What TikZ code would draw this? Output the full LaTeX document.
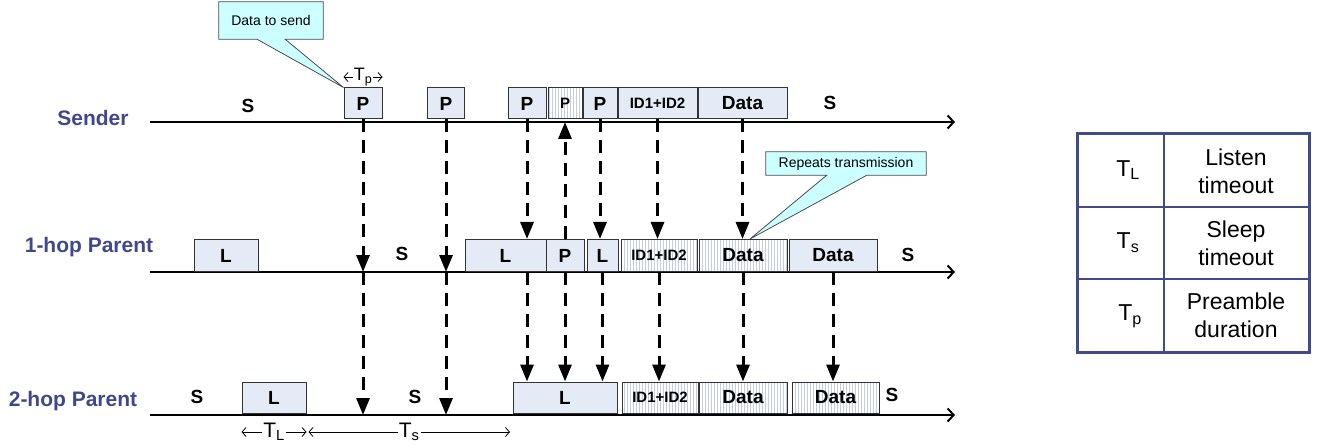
\documentclass[tikz,border=0pt]{standalone}
\usepackage{fontspec}
\setmainfont{Liberation Sans}
\usetikzlibrary{arrows.meta,patterns.meta,calc,backgrounds}

\definecolor{boxfill}{RGB}{228,235,247}
\definecolor{hatchline}{RGB}{196,204,224}
\definecolor{notefill}{RGB}{204,255,255}
\definecolor{rowlabel}{RGB}{64,72,140}
\definecolor{gridblue}{RGB}{66,74,142}

\newcommand{\fsz}[1]{\fontsize{#1}{#1}\selectfont}

\tikzset{
  slot/.style={draw=black!80, line width=1pt, fill=boxfill, inner sep=0pt,
    minimum height=31pt, font=\bfseries\fsz{19}},
  hatched/.style={draw=black!80, line width=1pt, inner sep=0pt,
    minimum height=31pt, font=\bfseries\fsz{19},
    preaction={fill=white},
    pattern={Lines[angle=90,distance=3pt,line width=0.7pt]},
    pattern color=hatchline},
  small/.style={font=\bfseries\fsz{15}},
  rowname/.style={anchor=base, text=rowlabel, font=\bfseries\fsz{21}},
  state/.style={font=\bfseries\fsz{19}},
  timeline/.style={line width=2pt, -{Straight Barb[length=6pt,width=13pt]}},
  darr/.style={line width=3pt, dash pattern=on 13pt off 8pt,
    -{Triangle[length=17pt,width=13pt]}},
  span/.style={line width=0.8pt, {Straight Barb[length=4pt,width=9pt]}-{Straight Barb[length=4pt,width=9pt]}},
  spanlabel/.style={fill=white, inner sep=1pt},
  notebox/.style={inner sep=0pt, font=\fsz{14}},
  note/.style={draw=black!70, line width=0.8pt, fill=notefill},
  cell/.style={font=\fontsize{23}{28}\selectfont, align=center},
}

\begin{document}
\begin{tikzpicture}[x=1pt, y=-1pt]
\useasboundingbox (0,0) rectangle (1321,446);

% ---- time axes ----
\coordinate (s0) at (150,122);  \coordinate (s1) at (955,122);
\coordinate (h0) at (150,272);  \coordinate (h1) at (955,272);
\coordinate (t0) at (150,415);  \coordinate (t1) at (955,415);
\draw[timeline] (s0) -- (s1);
\draw[timeline] (h0) -- (h1);
\draw[timeline] (t0) -- (t1);

\node[rowname] (lblS) at (93,126) {Sender};
\node[rowname] (lblH) at (89,252) {1-hop Parent};
\node[rowname] (lblT) at (73,406) {2-hop Parent};

% ---- sender ----
\node[state] (sS1) at (248,106) {S};
\node[slot, minimum width=38pt] (sP1) at (363,103.5) {P};
\node[slot, minimum width=37pt] (sP2) at (446,103.5) {P};
\node[slot, minimum width=38pt] (sP3) at (527,103.5) {P};
\node[hatched, small, minimum width=34pt] (sPh) at (565,103.5) {P};
\node[slot, minimum width=34pt] (sP4) at (600,103.5) {P};
\node[slot, small, minimum width=79pt] (sID) at (657.5,103.5) {ID1+ID2};
\node[slot, minimum width=89pt] (sD) at (742.5,103.5) {Data};
\node[state] (sS2) at (830,103) {S};

\draw[span] (sP1.west |- 0,77) -- (sP1.east |- 0,77)
  node[midway, spanlabel, font=\fsz{18}] (tp) {T\textsubscript{p}};

% ---- 1-hop parent ----
\node[slot, minimum width=64pt, minimum height=32pt] (hL1) at (226,255.5) {L};
\node[state] (hS1) at (402,254) {S};
\node[slot, minimum width=81pt, minimum height=32pt] (hL2) at (505.5,255.5) {L};
\node[slot, minimum width=38pt, minimum height=32pt] (hP) at (565,255.5) {P};
\node[slot, minimum width=31pt, minimum height=32pt] (hL3) at (602.5,255.5) {L};
\node[hatched, small, minimum width=76pt, minimum height=32pt] (hID) at (659,255.5) {ID1+ID2};
\node[hatched, minimum width=88pt, minimum height=32pt] (hD1) at (743,255.5) {Data};
\node[slot, minimum width=88pt, minimum height=32pt] (hD2) at (833,255.5) {Data};
\node[state] (hS2) at (908,255) {S};

% ---- 2-hop parent ----
\node[state] (tS1) at (197,397) {S};
\node[slot, minimum width=64pt] (tL1) at (274,397.5) {L};
\node[state] (tS2) at (415,397) {S};
\node[slot, minimum width=104pt] (tL2) at (565,397.5) {L};
\node[hatched, small, minimum width=76pt] (tID) at (660,397.5) {ID1+ID2};
\node[hatched, minimum width=88pt] (tD1) at (743,397.5) {Data};
\node[hatched, minimum width=87pt] (tD2) at (835.5,397.5) {Data};
\node[state] (tS3) at (892,395) {S};

\draw[span] (tL1.west |- 0,432) -- (tL1.east |- 0,432)
  node[midway, spanlabel, font=\fsz{21}] (tlab) {T\textsubscript{L}};
\draw[span] ([xshift=2pt]tL1.east |- 0,432) -- (510,432)
  node[pos=0.5, spanlabel, font=\fsz{21}] (tslab) {T\textsubscript{s}};

% ---- transmissions between nodes ----
\draw[darr] (sP1.south) -- (sP1.south |- h0);
\draw[darr] (sP1.south |- h0) -- (sP1.south |- t0);
\draw[darr] (sP2.south) -- (sP2.south |- h0);
\draw[darr] (sP2.south |- h0) -- (sP2.south |- t0);
\draw[darr] (sP3.south) -- (sP3.south |- hL2.north);
\draw[darr] (sP3.south |- h0) -- (sP3.south |- tL2.north);
\draw[darr] (hP.north) -- (hP.north |- s0);
\draw[darr] (hP.south) -- (hP.south |- tL2.north);
\draw[darr] (sP4.south) -- (sP4.south |- hL3.north);
\draw[darr] (hL3.south) -- (hL3.south |- tL2.north);
\draw[darr] (sID.south) -- (sID.south |- hID.north);
\draw[darr] (hID.south) -- (hID.south |- tID.north);
\draw[darr] (sD.south) -- (sD.south |- hD1.north);
\draw[darr] (hD1.south) -- (hD1.south |- tD1.north);
\draw[darr] (hD2.south) -- (hD2.south |- tD2.north);

% ---- callouts ----
\node[notebox, minimum width=104pt, minimum height=37pt] (n1) at (271,20.5) {Data to send};
\node[notebox, minimum width=160pt, minimum height=23pt] (n2) at (846,163.5) {Repeats transmission};
\begin{scope}[on background layer]
\draw[note] (n1.north west) -- (n1.north east) -- (n1.south east)
  -- ($(n1.south west)!0.635!(n1.south east)$) -- (sP1.north west)
  -- ($(n1.south west)!0.365!(n1.south east)$) -- (n1.south west) -- cycle;
\draw[note] (n2.north west) -- (n2.north east) -- (n2.south east)
  -- ($(n2.south west)!0.63!(n2.south east)$) -- ($(hD1.north)+(7,0)$)
  -- ($(n2.south west)!0.38!(n2.south east)$) -- (n2.south west) -- cycle;
\end{scope}

% ---- legend table ----
\draw[gridblue, line width=1.5pt] (1164,134) -- (1164,352)
  (1077,207) -- (1309,207) (1077,279) -- (1309,279);
\draw[gridblue, line width=3pt] (1077,134) rectangle (1309,352);
\node[cell] (k1) at (1128,170) {T\textsubscript{L}};
\node[cell] (v1) at (1236,171) {Listen\\timeout};
\node[cell] (k2) at (1128,243) {T\textsubscript{s}};
\node[cell] (v2) at (1236,243) {Sleep\\timeout};
\node[cell] (k3) at (1130,316) {T\textsubscript{p}};
\node[cell] (v3) at (1236,315) {Preamble\\duration};

\end{tikzpicture}
\end{document}
